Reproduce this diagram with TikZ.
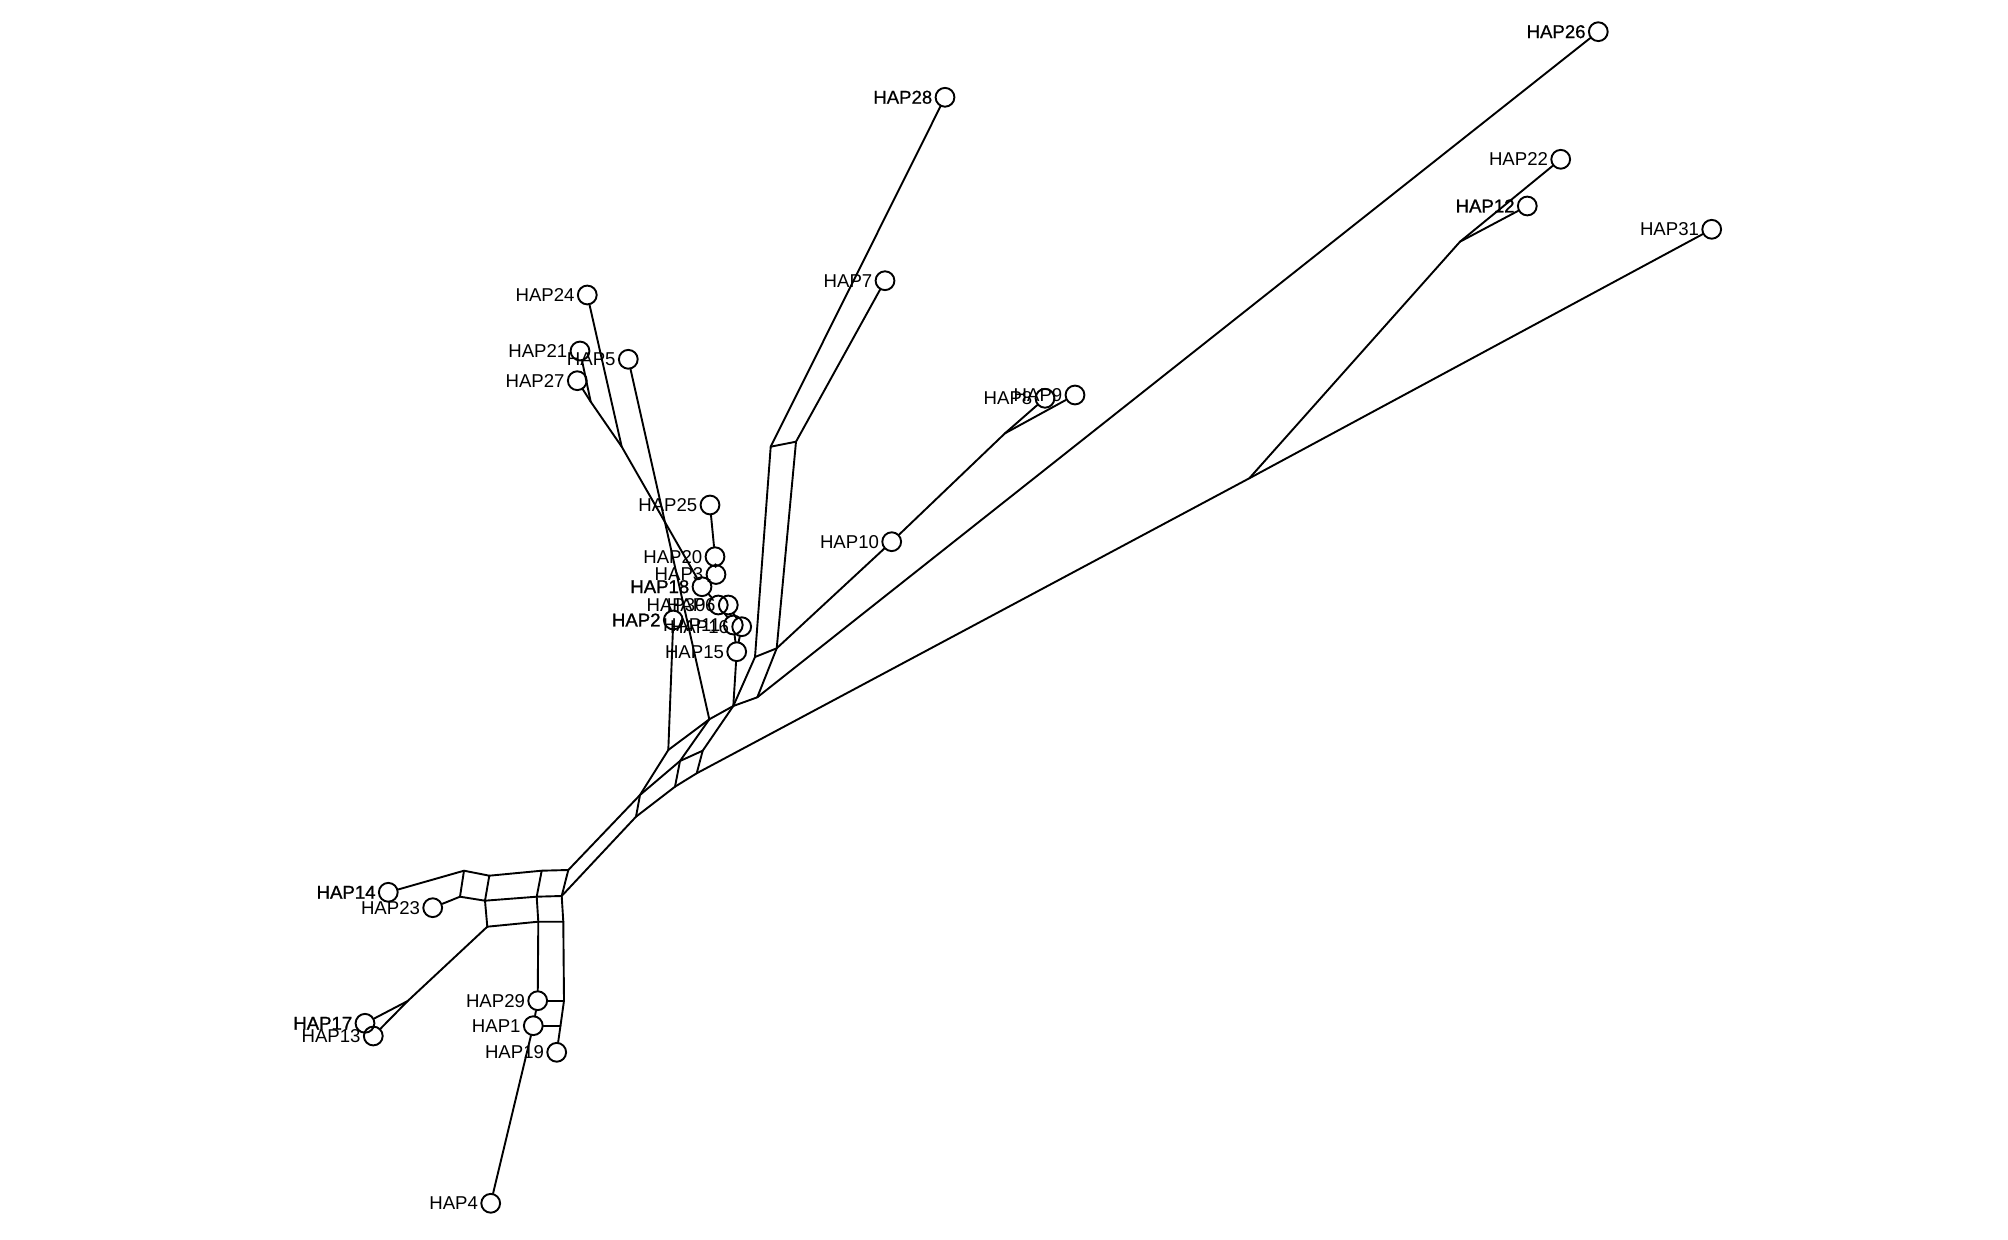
\documentclass[tikz,border=0pt]{standalone}
\usepackage{fontspec}
\setmainfont{Liberation Sans}
\newfontfamily\heavyfont{Liberation Sans}[FakeBold=1.2]
\newfontfamily\semifont{Liberation Sans}[FakeBold=0.6]
\tikzset{
  hap/.style={circle, draw, line width=0.95pt, minimum size=9.4pt, inner sep=0pt},
  lab/.style={anchor=east, inner xsep=1pt, inner ysep=0pt, font=\fontsize{9.3}{10}\selectfont},
  hlab/.style={lab, font=\fontsize{9.3}{10}\heavyfont},
  slab/.style={lab, font=\fontsize{9.3}{10}\semifont},
  edge/.style={line width=0.95pt, line join=round, line cap=round}
}
\begin{document}
\begin{tikzpicture}[x=0.5pt, y=-0.5pt]
\useasboundingbox (0,0) rectangle (2008,1240);

% haplotype circles
\node[hap] (HAP26) at (1598.3,31.7) {};
\node[hap] (HAP28) at (945,97.3) {};
\node[hap] (HAP22) at (1560.7,159.3) {};
\node[hap] (HAP12) at (1527.3,206) {};
\node[hap] (HAP31) at (1711.7,229.3) {};
\node[hap] (HAP7) at (885,280.7) {};
\node[hap] (HAP24) at (587.3,295) {};
\node[hap] (HAP21) at (580,351) {};
\node[hap] (HAP5) at (628.3,359.3) {};
\node[hap] (HAP27) at (577.3,380.7) {};
\node[hap] (HAP8) at (1045,398.3) {};
\node[hap] (HAP9) at (1075,395) {};
\node[hap] (HAP25) at (710,505) {};
\node[hap] (HAP10) at (891.7,541.7) {};
\node[hap] (HAP20) at (715,556.7) {};
\node[hap] (HAP3) at (716,574.5) {};
\node[hap] (HAP18) at (702,586.7) {};
\node[hap] (HAP30) at (718.3,605) {};
\node[hap] (HAP6) at (728.3,605) {};
\node[hap] (HAP2) at (673.3,620) {};
\node[hap] (HAP11) at (733.3,625) {};
\node[hap] (HAP16) at (741.7,626.7) {};
\node[hap] (HAP15) at (736.7,651.7) {};
\node[hap] (HAP14) at (388.3,892.3) {};
\node[hap] (HAP23) at (432.7,907.7) {};
\node[hap] (HAP29) at (537.7,1000.7) {};
\node[hap] (HAP17) at (365,1023.3) {};
\node[hap] (HAP1) at (533.3,1025.7) {};
\node[hap] (HAP13) at (373.3,1036) {};
\node[hap] (HAP19) at (556.7,1052.3) {};
\node[hap] (HAP4) at (490.7,1203.3) {};

% labels
\node[slab] (L26) at (HAP26.west) {HAP26};
\node[slab] (L28) at (HAP28.west) {HAP28};
\node[lab] (L22) at (HAP22.west) {HAP22};
\node[hlab] (L12) at (HAP12.west) {HAP12};
\node[lab] (L31) at (HAP31.west) {HAP31};
\node[lab] (L7) at (HAP7.west) {HAP7};
\node[lab] (L24) at (HAP24.west) {HAP24};
\node[lab] (L21) at (HAP21.west) {HAP21};
\node[lab] (L5) at (HAP5.west) {HAP5};
\node[lab] (L27) at (HAP27.west) {HAP27};
\node[lab] (L8) at (HAP8.west) {HAP8};
\node[lab] (L9) at (HAP9.west) {HAP9};
\node[lab] (L25) at (HAP25.west) {HAP25};
\node[lab] (L10) at (HAP10.west) {HAP10};
\node[lab] (L20) at (HAP20.west) {HAP20};
\node[lab] (L3) at (HAP3.west) {HAP3};
\node[hlab] (L18) at (HAP18.west) {HAP18};
\node[lab] (L30) at (HAP30.west) {HAP30};
\node[lab] (L6) at (HAP6.west) {HAP6};
\node[hlab] (L2) at (HAP2.west) {HAP2};
\node[lab] (L11) at (HAP11.west) {HAP11};
\node[lab] (L16) at (HAP16.west) {HAP16};
\node[lab] (L15) at (HAP15.west) {HAP15};
\node[hlab] (L14) at (HAP14.west) {HAP14};
\node[lab] (L23) at (HAP23.west) {HAP23};
\node[lab] (L29) at (HAP29.west) {HAP29};
\node[hlab] (L17) at (HAP17.west) {HAP17};
\node[lab] (L1) at (HAP1.west) {HAP1};
\node[lab] (L13) at (HAP13.west) {HAP13};
\node[lab] (L19) at (HAP19.west) {HAP19};
\node[lab] (L4) at (HAP4.west) {HAP4};

% internal vertices
\coordinate (J9) at (1005,433.3);
\coordinate (J12) at (1460,241.7);
\coordinate (J31) at (1249.3,478.3);
\coordinate (T1) at (770.7,446.7);
\coordinate (T2) at (796,441.7);
\coordinate (U1) at (755,657);
\coordinate (U2) at (776.7,648.3);
\coordinate (vi) at (733.3,706);
\coordinate (vj) at (757.3,697.3);
\coordinate (va) at (640,795);
\coordinate (vb) at (636,816.7);
\coordinate (vc) at (668.3,750);
\coordinate (vd) at (680,761);
\coordinate (ve) at (675,786.7);
\coordinate (vf) at (702.7,750.7);
\coordinate (vg) at (696.7,773.3);
\coordinate (vh) at (709.3,719.3);
\coordinate (J24) at (621.7,446.7);
\coordinate (J27) at (590.7,401.7);
\coordinate (A1) at (464,870.7);
\coordinate (A2) at (460,896.7);
\coordinate (B1) at (489.3,875.7);
\coordinate (B2) at (485,900.7);
\coordinate (B3) at (487.3,926.7);
\coordinate (C1) at (541.7,870.7);
\coordinate (C2) at (536.7,896.7);
\coordinate (C3) at (538.3,921.7);
\coordinate (D1) at (568.3,870);
\coordinate (D2) at (561.7,896);
\coordinate (D3) at (563.3,921.7);
\coordinate (J13) at (407.7,1001);
\coordinate (R1) at (564,1000.7);
\coordinate (R2) at (560.5,1025.7);

% upper right branches
\draw[edge] (vj) -- (HAP26);
\draw[edge] (vg) -- (J31) -- (HAP31);
\draw[edge] (J31) -- (J12);
\draw[edge] (J12) -- (HAP22);
\draw[edge] (J12) -- (HAP12);
\draw[edge] (HAP8) -- (J9);
\draw[edge] (HAP9) -- (J9);
\draw[edge] (J9) -- (HAP10);
\draw[edge] (HAP10) -- (U2);

% HAP7 / HAP28 column
\draw[edge] (HAP28) -- (T1);
\draw[edge] (HAP7) -- (T2);
\draw[edge] (T1) -- (T2);
\draw[edge] (T1) -- (U1);
\draw[edge] (T2) -- (U2);
\draw[edge] (U1) -- (U2);
\draw[edge] (U1) -- (vi);
\draw[edge] (U2) -- (vj);
\draw[edge] (vi) -- (vj);

% upper left group
\draw[edge] (HAP24) -- (J24);
\draw[edge] (HAP21) -- (J27);
\draw[edge] (HAP27) -- (J27);
\draw[edge] (J27) -- (J24) -- (HAP18);
\draw[edge] (HAP5) -- (vh);

% central cluster
\draw[edge] (HAP25) -- (HAP20);
\draw[edge] (HAP20) -- (HAP3);
\draw[edge] (HAP3) -- (HAP18);
\draw[edge] (HAP18) -- (HAP30);
\draw[edge] (HAP30) -- (HAP11);
\draw[edge] (HAP6) -- (HAP16);
\draw[edge] (HAP11) -- (HAP15);
\draw[edge] (HAP16) -- (HAP15);
\draw[edge] (HAP15) -- (vi);
\draw[edge] (HAP2) -- (vc);

% splits network near the centre
\draw[edge] (va) -- (vc);
\draw[edge] (vd) -- (vh);
\draw[edge] (vf) -- (vi);
\draw[edge] (vc) -- (vh);
\draw[edge] (vh) -- (vi);
\draw[edge] (va) -- (vd);
\draw[edge] (vd) -- (vf);
\draw[edge] (vb) -- (ve);
\draw[edge] (ve) -- (vg);
\draw[edge] (vb) -- (va);
\draw[edge] (ve) -- (vd);
\draw[edge] (vg) -- (vf);
\draw[edge] (D1) -- (va);
\draw[edge] (D2) -- (vb);

% lower left grid
\draw[edge] (HAP14) -- (A1);
\draw[edge] (HAP23) -- (A2);
\draw[edge] (A1) -- (A2);
\draw[edge] (A1) -- (B1) -- (C1) -- (D1);
\draw[edge] (A2) -- (B2) -- (C2) -- (D2);
\draw[edge] (B3) -- (C3) -- (D3);
\draw[edge] (B1) -- (B2) -- (B3);
\draw[edge] (C1) -- (C2) -- (C3);
\draw[edge] (D1) -- (D2) -- (D3);
\draw[edge] (B3) -- (J13);
\draw[edge] (J13) -- (HAP17);
\draw[edge] (J13) -- (HAP13);
\draw[edge] (C3) -- (HAP29);
\draw[edge] (D3) -- (R1);
\draw[edge] (HAP29) -- (R1);
\draw[edge] (R1) -- (R2);
\draw[edge] (R2) -- (HAP19);
\draw[edge] (HAP1) -- (R2);
\draw[edge] (HAP29) -- (HAP1);
\draw[edge] (HAP1) -- (HAP4);
\end{tikzpicture}
\end{document}
